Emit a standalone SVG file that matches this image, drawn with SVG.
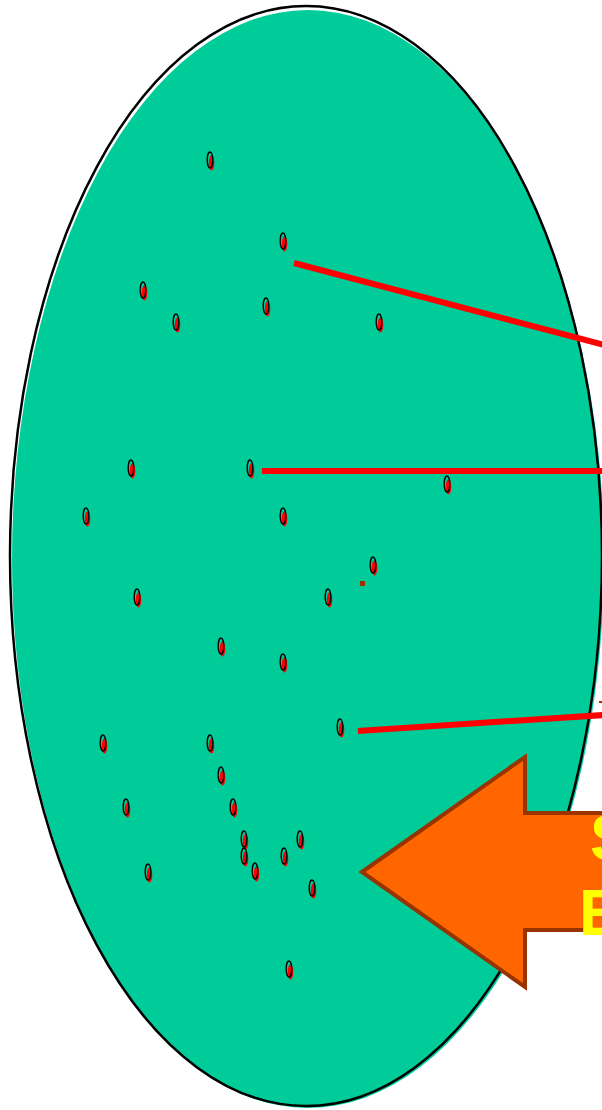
<svg xmlns="http://www.w3.org/2000/svg" width="602" height="1110" viewBox="0 0 602 1110">
<style>
.o{fill:none;stroke:#000;stroke-width:1.4}
.f{fill:#ff0000}
.c{stroke:#ff0000;stroke-width:6;fill:none}
.t{font-family:"Liberation Sans",Arial,sans-serif;font-weight:bold;font-size:64px;fill:#ffff00}
</style>
<defs>
<g id="dot">
<ellipse class="f" cx="1.5" cy="3" rx="2.8" ry="7.5"/>
<ellipse class="o" cx="0" cy="0" rx="2.8" ry="8"/>
</g>
</defs>
<g id="cell">
<ellipse cx="308" cy="559" rx="296" ry="549" fill="#00cc99"/>
<ellipse cx="306" cy="556" rx="296" ry="550" fill="none" stroke="#000" stroke-width="2.5"/>
</g>
<g id="dots">
<use href="#dot" x="210" y="160"/>
<use href="#dot" x="283" y="241"/>
<use href="#dot" x="143" y="290"/>
<use href="#dot" x="176" y="322"/>
<use href="#dot" x="266" y="306"/>
<use href="#dot" x="379" y="322"/>
<use href="#dot" x="131" y="468"/>
<use href="#dot" x="250" y="468"/>
<use href="#dot" x="447" y="484"/>
<use href="#dot" x="86" y="516"/>
<use href="#dot" x="283" y="516"/>
<use href="#dot" x="373" y="565"/>
<use href="#dot" x="137" y="597"/>
<use href="#dot" x="328" y="597"/>
<use href="#dot" x="221" y="646"/>
<use href="#dot" x="283" y="662"/>
<use href="#dot" x="340" y="727"/>
<use href="#dot" x="103" y="743"/>
<use href="#dot" x="210" y="743"/>
<use href="#dot" x="221" y="775"/>
<use href="#dot" x="126" y="807"/>
<use href="#dot" x="233" y="807"/>
<use href="#dot" x="244" y="839"/>
<use href="#dot" x="300" y="839"/>
<use href="#dot" x="244" y="856"/>
<use href="#dot" x="284" y="856"/>
<use href="#dot" x="148" y="872"/>
<use href="#dot" x="255" y="871"/>
<use href="#dot" x="312" y="888"/>
<use href="#dot" x="289" y="969"/>
</g>
<g id="marks" fill="#993300">
<rect x="360" y="581" width="5" height="5"/>
<rect x="599" y="701" width="3" height="2"/>
</g>
<g id="connectors">
<line class="c" x1="294" y1="263" x2="604" y2="345"/>
<line class="c" x1="262" y1="471" x2="604" y2="471"/>
<line class="c" x1="358" y1="731" x2="604" y2="715"/>
</g>
<g id="arrow">
<polygon points="362,872 525,757 525,813 610,813 610,930 525,930 525,987" fill="#ff6600" stroke="#993300" stroke-width="4"/>
</g>
<g id="label">
<text class="t" x="590" y="860">S</text>
<text class="t" x="579" y="935">E</text>
</g>
</svg>
